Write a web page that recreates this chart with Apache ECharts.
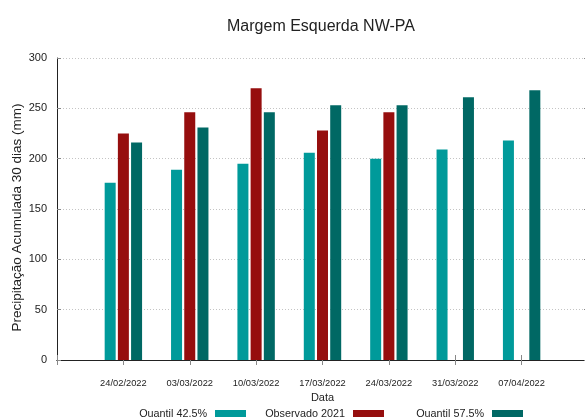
<!DOCTYPE html>
<html>
<head>
<meta charset="utf-8">
<script src="https://cdn.jsdelivr.net/npm/echarts@6/dist/echarts.min.js"></script>
<style>
  html, body { margin: 0; padding: 0; background: #fff; }
  #chart { width: 585px; height: 417px; }
</style>
</head>
<body>
<div id="chart"></div>
<script>
// dates (empty slots pad the axis on both ends, like the gnuplot range)
var dates = ['', '24/02/2022', '03/03/2022', '10/03/2022', '17/03/2022', '24/03/2022', '31/03/2022', '07/04/2022', ''];
var quantil425 = [null, 176, 189, 195, 206, 200, 209, 218, null];
var observado2021 = [null, 225, 246, 270, 228, 246, null, null, null];
var quantil575 = [null, 216, 231, 246, 253, 253, 261, 268, null];
var yTicks = [0, 50, 100, 150, 200, 250, 300];

var font = '"Liberation Sans", Arial, sans-serif';

var chart = echarts.init(document.getElementById('chart'));

function legendAt(name, right) {
  return {
    data: [name],
    right: right,
    top: 409,
    padding: 0,
    align: 'right',
    icon: 'rect',
    itemWidth: 31,
    itemHeight: 9,
    selectedMode: false,
    textStyle: { fontFamily: font, fontSize: 10.8, color: '#222', padding: [0, 3, 0, 0] }
  };
}

var option = {
  animation: false,
  title: {
    text: 'Margem Esquerda NW-PA',
    left: 316,
    textAlign: 'center',
    top: 14,
    textStyle: { fontFamily: font, fontSize: 16, fontWeight: 'normal', color: '#222' }
  },
  legend: [
    legendAt('Quantil 42.5%', 339),
    legendAt('Observado 2021', 201),
    legendAt('Quantil 57.5%', 62)
  ],
  grid: { left: 57, right: -3, top: 58, bottom: 57, outerBoundsMode: 'none', containLabel: false },
  xAxis: [
    {
      type: 'category',
      data: dates,
      boundaryGap: false,
      name: 'Data',
      nameLocation: 'middle',
      nameGap: 32,
      nameMoveOverlap: false,
      nameTextStyle: { fontFamily: font, fontSize: 11, color: '#222' },
      axisLine: { lineStyle: { color: '#222', width: 1 } },
      axisTick: { inside: true, length: 5, interval: 0, lineStyle: { color: '#888' } },
      axisLabel: { interval: 0, margin: 19, fontFamily: font, fontSize: 9.3, color: '#222' },
      splitLine: { show: false }
    },
    {
      type: 'category',
      data: dates,
      boundaryGap: false,
      position: 'top',
      axisLine: { lineStyle: { color: '#222', width: 1 } },
      axisTick: { inside: true, length: 5, interval: 0, lineStyle: { color: '#888' } },
      axisLabel: { show: false },
      splitLine: { show: false }
    }
  ],
  yAxis: [
    {
      type: 'value',
      min: yTicks[0],
      max: yTicks[yTicks.length - 1],
      interval: 50,
      name: 'Precipitação Acumulada 30 dias (mm)',
      nameLocation: 'middle',
      nameGap: 33,
      nameMoveOverlap: false,
      nameTextStyle: { fontFamily: font, fontSize: 13.5, color: '#222', padding: [0, 17, 0, 0] },
      axisLine: { show: true, lineStyle: { color: '#222', width: 1 } },
      axisTick: { show: true, inside: true, length: 4, lineStyle: { color: '#888' } },
      axisLabel: { margin: 10, fontFamily: font, fontSize: 11, color: '#222' },
      splitLine: { show: true, lineStyle: { color: '#c4c4c4', type: [1, 2], width: 1 } }
    },
    {
      type: 'value',
      min: yTicks[0],
      max: yTicks[yTicks.length - 1],
      interval: 50,
      position: 'right',
      axisLine: { show: true, lineStyle: { color: '#222', width: 1 } },
      axisTick: { show: true, inside: true, length: 4, lineStyle: { color: '#888' } },
      axisLabel: { show: false },
      splitLine: { show: false }
    }
  ],
  series: [
    {
      name: 'Quantil 42.5%',
      type: 'bar',
      barWidth: 11,
      barGap: '20%',
      itemStyle: { color: '#009a9a' },
      data: quantil425
    },
    {
      name: 'Observado 2021',
      type: 'bar',
      barWidth: 11,
      barGap: '20%',
      itemStyle: { color: '#960e0e' },
      data: observado2021
    },
    {
      name: 'Quantil 57.5%',
      type: 'bar',
      barWidth: 11,
      barGap: '20%',
      itemStyle: { color: '#006864' },
      data: quantil575
    }
  ]
};

chart.setOption(option);
</script>
</body>
</html>
